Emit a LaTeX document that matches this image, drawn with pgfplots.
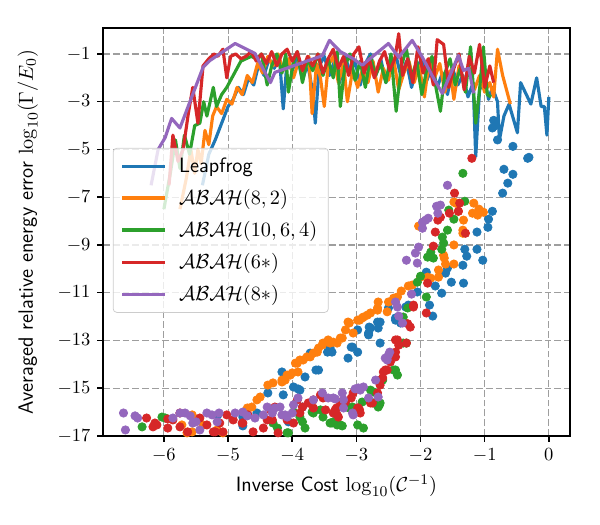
\documentclass[border=0pt]{standalone}
\usepackage{pgfplots}
\pgfplotsset{compat=1.18}
\definecolor{c0}{HTML}{1F77B4}
\definecolor{c1}{HTML}{FF7F0E}
\definecolor{c2}{HTML}{2CA02C}
\definecolor{c3}{HTML}{D62728}
\definecolor{c4}{HTML}{9467BD}
\begin{document}
\begin{tikzpicture}
\useasboundingbox (-55.6pt,-48.1pt) rectangle (268.4pt,235.4pt);
\begin{axis}[
 scale only axis, width=252.2pt, height=220.3pt,
 xmin=-6.95, xmax=0.33, ymin=-17, ymax=0.09,
 xtick={-6,-5,-4,-3,-2,-1,0}, ytick={-17,-15,-13,-11,-9,-7,-5,-3,-1},
 tick align=outside, tick pos=left, major tick length=3.2pt,
 grid=major, major grid style={black!38, dash pattern=on 3.7pt off 1.6pt, line width=0.6pt},
 axis line style={line width=0.8pt}, tick style={black, line width=0.8pt},
 label style={font=\fontsize{11.2}{13}\selectfont},
 xlabel={\sffamily Inverse Cost $\log_{10}(\mathcal{C}^{-1})$},
 ylabel={\sffamily Averaged relative energy error $\log_{10}(\Gamma/E_0)$},
 ylabel style={at={(axis description cs:-0.161,0.5)}, anchor=center},
 legend cell align=left,
 legend style={at={(0.021,0.706)}, anchor=north west, draw=black!20, rounded corners=2pt,
   fill=white, fill opacity=0.8, text opacity=1, row sep=3.6pt, inner xsep=4pt, inner ysep=3pt,
   font=\fontsize{11.2}{13}\selectfont,
   /tikz/every odd column/.append style={column sep=5pt}},
 legend image code/.code={\draw[#1] (0pt,0pt) -- (23pt,0pt);},
 ln/.style={no marks, line width=1.7pt, line join=round},
 scat/.style={only marks, mark=*, mark size=2.25pt, mark options={draw=none}, forget plot},
]
% ---- Leapfrog
\addplot[c0, ln] coordinates {
(-5.40,-6.5)(-5.30,-5.2)(-5.20,-4.6)(-5.10,-3.9)(-5.00,-3.2)(-4.92,-2.9)(-4.84,-2.4)(-4.76,-2.7)(-4.68,-2.0)(-4.60,-2.3)
(-4.52,-1.4)(-4.44,-1.9)(-4.36,-1.2)(-4.28,-1.6)(-4.20,-1.1)(-4.14,-3.3)(-4.08,-1.3)(-4.00,-1.7)(-3.92,-1.1)(-3.84,-2.1)
(-3.76,-1.4)(-3.68,-2.6)(-3.64,-3.9)(-3.58,-1.5)(-3.50,-1.1)(-3.42,-1.9)(-3.34,-1.3)(-3.26,-2.2)(-3.18,-1.0)(-3.10,-1.8)
(-3.02,-1.3)(-2.94,-2.3)(-2.86,-1.4)(-2.78,-1.0)(-2.70,-1.9)(-2.62,-1.2)(-2.54,-2.2)(-2.46,-1.5)(-2.38,-1.1)(-2.30,-2.0)
(-2.22,-1.3)(-2.14,-2.4)(-2.06,-1.6)(-1.98,-1.2)(-1.90,-2.1)(-1.82,-1.5)(-1.74,-2.4)(-1.66,-1.8)(-1.58,-2.7)(-1.50,-1.6)
(-1.42,-2.3)(-1.34,-1.9)(-1.26,-2.8)(-1.18,-2.2)(-1.14,-5.3)(-1.08,-2.5)(-1.00,-2.1)(-0.94,-2.9)(-0.88,-2.4)(-0.80,-3.0)
(-0.77,-4.6)(-0.70,-3.6)(-0.62,-3.1)(-0.49,-4.3)(-0.44,-2.2)(-0.28,-3.1)(-0.19,-2.0)(-0.12,-3.2)(-0.07,-3.2)(-0.03,-4.4)(0.00,-2.8)};
\addlegendentry{\sffamily Leapfrog}
\addplot[c0, scat] coordinates {
(-0.31,-5.33)(-0.70,-5.83)(-0.56,-6.04)(-0.64,-6.41)(-0.72,-6.83)(-0.88,-7.59)(-0.94,-7.92)(-0.95,-8.26)(-1.12,-8.46)(-1.12,-9.18)
(-1.03,-9.64)(-1.31,-9.18)(-1.28,-9.47)(-1.34,-9.85)(-1.33,-10.60)(-1.52,-10.56)(-1.58,-9.97)(-1.61,-10.18)(-1.67,-11.02)(-1.77,-10.72)
(-1.86,-11.52)(-1.81,-11.98)(-2.05,-10.97)(-1.91,-10.14)(-2.19,-11.52)(-2.31,-12.27)(-2.23,-11.60)(-2.63,-12.23)(-2.66,-12.48)(-2.78,-12.48)
(-2.81,-12.77)(-2.63,-13.11)(-2.98,-13.49)(-3.06,-13.28)(-3.13,-13.74)(-2.98,-12.56)(-2.39,-12.06)(-2.50,-11.64)(-3.38,-13.49)(-4.16,-14.32)
(-4.14,-15.28)(-3.98,-14.95)(-3.91,-15.03)(-3.80,-14.53)(-3.63,-14.24)(-3.59,-14.24)(-3.72,-13.53)(-3.45,-13.49)(-3.41,-13.32)(-3.08,-13.28)
(-2.81,-12.69)(-2.80,-12.44)(-2.67,-12.23)(-2.39,-12.15)(-4.55,-16.04)(-4.77,-16.58)(-5.16,-16.12)(-4.38,-15.20)(-3.88,-15.08)(-3.84,-15.79)
(-4.06,-16.41)(-4.77,-16.21)(-3.44,-13.11)(-0.86,-3.78)(-0.83,-4.0)(-0.88,-4.1)(-0.80,-4.6)(-0.56,-4.87)(-0.33,-5.37)};
% ---- ABAH(8,2)
\addplot[c1, ln] coordinates {
(-5.75,-7.5)(-5.65,-6.2)(-5.58,-5.0)(-5.52,-6.0)(-5.47,-5.0)(-5.42,-5.6)(-5.36,-4.2)(-5.30,-4.8)(-5.24,-3.6)(-5.18,-3.2)
(-5.10,-3.5)(-5.02,-2.9)(-4.94,-3.1)(-4.86,-2.4)(-4.78,-2.7)(-4.70,-1.9)(-4.62,-2.2)(-4.54,-1.4)(-4.46,-1.8)(-4.38,-1.1)
(-4.30,-1.5)(-4.22,-1.0)(-4.14,-1.7)(-4.06,-1.2)(-3.98,-2.0)(-3.90,-1.3)(-3.82,-1.8)(-3.74,-1.1)(-3.69,-3.5)(-3.62,-1.4)
(-3.56,-2.0)(-3.50,-3.2)(-3.44,-1.5)(-3.36,-1.1)(-3.28,-2.2)(-3.20,-1.4)(-3.14,-3.0)(-3.06,-1.7)(-2.98,-2.4)(-2.90,-1.6)
(-2.82,-2.2)(-2.74,-1.3)(-2.66,-2.6)(-2.58,-1.6)(-2.50,-2.1)(-2.42,-1.2)(-2.34,-2.5)(-2.26,-1.8)(-2.18,-1.3)(-2.10,-2.2)
(-2.02,-1.5)(-1.94,-2.8)(-1.86,-1.2)(-1.78,-2.0)(-1.70,-1.4)(-1.62,-2.6)(-1.54,-1.7)(-1.48,-2.9)(-1.40,-1.5)(-1.32,-2.2)
(-1.24,-1.6)(-1.16,-2.5)(-1.08,-1.9)(-1.00,-2.6)(-0.92,-2.2)(-0.86,-2.8)(-0.80,-0.8)(-0.72,-1.9)(-0.66,-2.5)(-0.60,-3.1)};
\addlegendentry{$\mathcal{ABAH}(8,2)$}
\addplot[c1, scat] coordinates {
(-3.13,-12.23)(-3.17,-12.56)(-3.25,-12.90)(-3.36,-13.07)(-3.41,-13.11)(-3.53,-13.19)(-3.61,-13.49)(-3.67,-13.53)(-3.77,-13.69)(-3.88,-13.82)
(-3.92,-13.95)(-4.00,-14.36)(-4.08,-14.45)(-4.16,-14.66)(-4.30,-14.78)(-4.38,-14.87)(-4.50,-15.37)(-4.55,-15.49)(-4.63,-15.79)(-4.70,-15.83)
(-5.72,-16.54)(-5.56,-16.12)(-5.52,-16.33)(-5.64,-16.87)(-5.17,-16.75)(-5.39,-16.54)(-5.08,-16.87)(-5.56,-16.83)(-4.16,-14.74)(-4.11,-14.66)
(-4.03,-14.45)(-3.95,-13.95)(-3.91,-14.32)(-3.83,-13.82)(-3.72,-13.69)(-3.59,-13.32)(-3.52,-13.11)(-3.44,-12.98)(-3.30,-13.11)(-3.22,-12.90)
(-3.05,-12.69)(-2.98,-12.15)(-2.91,-12.06)(-2.83,-11.94)(-2.78,-11.85)(-2.67,-11.64)(-2.66,-11.39)(-2.52,-11.80)(-2.30,-10.93)(-2.36,-11.18)
(-2.42,-11.23)(-2.50,-11.39)(-2.67,-11.73)(-2.89,-12.02)(-2.95,-12.15)(-3.11,-12.27)(-2.19,-10.72)(-2.13,-10.68)(-2.00,-10.35)(-1.89,-10.35)
(-1.84,-10.39)(-1.72,-10.35)(-1.72,-10.05)(-1.61,-9.80)(-1.48,-9.80)(-1.48,-9.00)(-1.64,-9.43)(-1.63,-9.55)(-1.34,-8.51)(-1.34,-8.38)
(-1.33,-7.96)(-1.45,-7.25)(-1.41,-7.59)(-1.17,-7.25)(-1.19,-7.67)(-1.11,-7.75)(-1.09,-7.50)(-1.02,-7.63)(-2.03,-8.21)(-1.48,-7.2)};
% ---- ABAH(10,6,4)
\addplot[c2, ln] coordinates {
(-6.00,-7.5)(-5.90,-6.0)(-5.82,-4.6)(-5.75,-5.8)(-5.68,-4.4)(-5.60,-5.2)(-5.52,-4.0)(-5.44,-3.9)(-5.38,-3.0)(-5.33,-3.6)
(-5.23,-2.4)(-5.18,-3.2)(-5.10,-2.7)(-5.02,-2.4)(-4.94,-2.0)(-4.86,-1.6)(-4.80,-1.3)(-4.72,-1.2)(-4.64,-1.1)(-4.56,-1.2)
(-4.48,-1.0)(-4.39,-2.3)(-4.32,-1.5)(-4.24,-1.0)(-4.16,-1.8)(-4.10,-1.0)(-4.06,-2.6)(-3.98,-1.3)(-3.92,-0.9)(-3.84,-2.2)
(-3.76,-1.2)(-3.68,-1.7)(-3.60,-1.0)(-3.52,-1.9)(-3.44,-1.2)(-3.36,-2.0)(-3.30,-0.9)(-3.25,-3.2)(-3.18,-1.5)(-3.10,-1.0)
(-3.02,-2.1)(-2.94,-1.3)(-2.86,-2.4)(-2.78,-1.1)(-2.70,-1.9)(-2.62,-1.4)(-2.54,-2.2)(-2.46,-1.0)(-2.38,-3.4)(-2.30,-1.5)
(-2.22,-0.8)(-2.14,-2.0)(-2.06,-1.3)(-1.98,-2.7)(-1.90,-1.6)(-1.82,-1.1)(-1.76,-2.4)(-1.69,-3.4)(-1.62,-1.8)(-1.54,-1.2)
(-1.46,-2.3)(-1.38,-1.6)(-1.30,-2.6)(-1.22,-0.7)(-1.14,-3.9)(-1.08,-2.5)(-1.02,-0.7)(-0.96,-2.7)(-0.90,-2.8)};
\addlegendentry{$\mathcal{ABAH}(10,6,4)$}
\addplot[c2, scat] coordinates {
(-1.34,-6.0)(-1.31,-7.17)(-1.56,-7.54)(-1.48,-7.92)(-1.58,-8.38)(-1.66,-8.67)(-1.64,-8.92)(-1.67,-9.18)(-1.84,-9.30)(-1.89,-9.51)
(-1.80,-9.55)(-2.00,-10.31)(-2.05,-10.56)(-1.91,-11.18)(-2.20,-11.64)(-2.27,-12.02)(-2.27,-13.11)(-2.22,-13.11)(-2.42,-14.24)(-2.36,-14.45)
(-2.59,-14.66)(-2.73,-15.16)(-2.64,-15.70)(-2.66,-15.79)(-2.91,-15.58)(-3.11,-15.83)(-3.22,-16.58)(-2.98,-16.54)(-2.89,-16.67)(-3.38,-16.46)
(-6.34,-16.62)(-6.03,-16.21)(-5.98,-16.25)(-4.23,-16.67)(-4.08,-16.87)(-4.06,-16.87)(-3.88,-16.21)(-3.67,-16.04)(-3.56,-15.91)(-3.41,-16.46)
(-3.36,-16.41)(-3.25,-16.54)(-3.14,-15.79)(-3.80,-16.67)(-3.30,-16.54)(-3.06,-15.79)(-2.78,-15.08)(-2.73,-15.62)(-2.63,-15.62)(-2.39,-14.24)
(-3.52,-16.21)(-3.69,-16.0)(-3.98,-16.00)(-3.84,-16.41)(-4.30,-16.46)};
% ---- ABAH(6*)
\addplot[c3, ln] coordinates {
(-5.92,-6.5)(-5.86,-4.4)(-5.78,-5.5)(-5.70,-5.0)(-5.62,-3.5)(-5.55,-2.4)(-5.47,-3.9)(-5.39,-1.5)(-5.30,-1.2)(-5.22,-1.0)
(-5.16,-1.1)(-5.08,-0.8)(-5.02,-2.0)(-4.96,-1.1)(-4.88,-1.0)(-4.80,-1.2)(-4.72,-1.1)(-4.64,-0.9)(-4.56,-1.3)(-4.48,-1.0)
(-4.40,-1.4)(-4.32,-0.9)(-4.24,-1.5)(-4.16,-1.0)(-4.08,-0.8)(-4.00,-1.3)(-3.92,-0.9)(-3.84,-1.7)(-3.76,-1.1)(-3.68,-1.5)
(-3.60,-1.0)(-3.52,-1.8)(-3.44,-1.2)(-3.36,-0.8)(-3.28,-1.6)(-3.20,-1.1)(-3.12,-1.9)(-3.04,-1.0)(-2.96,-0.7)(-2.88,-1.8)
(-2.80,-1.2)(-2.72,-2.0)(-2.64,-1.3)(-2.56,-0.9)(-2.48,-1.7)(-2.40,-1.2)(-2.34,-0.15)(-2.28,-1.9)(-2.20,-1.2)(-2.12,-2.2)
(-2.04,-0.7)(-1.96,-1.8)(-1.88,-1.2)(-1.80,-2.3)(-1.74,-0.4)(-1.64,-0.6)(-1.56,-2.4)(-1.48,-1.6)(-1.40,-1.0)(-1.32,-2.5)
(-1.24,-1.1)(-1.16,-1.8)(-1.08,-0.6)(-1.00,-2.4)(-0.92,-1.5)(-0.86,-2.2)};
\addlegendentry{$\mathcal{ABAH}(6*)$}
\addplot[c3, scat] coordinates {
(-1.20,-5.37)(-1.47,-6.83)(-1.39,-7.25)(-1.41,-7.59)(-1.55,-7.67)(-1.69,-7.84)(-1.73,-7.96)(-1.77,-8.46)(-1.80,-9.05)(-1.30,-8.51)
(-1.89,-10.60)(-1.91,-11.85)(-2.11,-11.52)(-2.16,-12.44)(-2.20,-12.30)(-2.39,-12.98)(-2.34,-13.20)(-2.39,-13.49)(-2.47,-13.90)(-2.55,-14.24)
(-2.59,-14.57)(-2.63,-14.66)(-2.75,-15.62)(-2.98,-15.83)(-2.95,-15.91)(-3.05,-15.20)(-3.28,-16.21)(-3.31,-15.83)(-6.27,-16.25)(-6.17,-16.62)
(-6.11,-16.54)(-5.94,-16.67)(-5.86,-16.33)(-5.75,-16.62)(-5.63,-16.83)(-5.44,-16.25)(-5.33,-16.54)(-5.20,-16.83)(-5.08,-16.83)(-4.92,-16.33)
(-4.77,-16.46)(-4.69,-16.12)(-4.61,-16.83)(-4.39,-16.33)(-4.34,-15.91)(-4.27,-15.79)(-4.22,-16.87)(-4.08,-16.33)(-3.98,-16.46)(-3.92,-15.49)
(-3.88,-16.04)(-3.67,-15.49)(-3.56,-15.28)(-3.48,-15.91)(-3.36,-16.04)(-3.25,-15.58)(-3.17,-15.58)(-3.84,-15.79)(-3.75,-15.62)(-3.67,-15.83)
(-3.52,-15.41)(-3.33,-15.91)(-3.30,-16.12)(-3.08,-15.41)(-2.97,-15.83)(-2.94,-16.04)(-2.78,-15.62)(-2.67,-15.20)(-2.63,-14.87)(-2.58,-14.32)
(-2.52,-14.24)(-2.36,-12.98)(-2.39,-13.69)(-2.22,-13.11)(-2.11,-11.60)(-6.14,-16.46)(-5.94,-16.29)(-5.75,-16.04)(-5.23,-16.83)(-5.13,-16.46)
(-5.02,-16.12)(-4.78,-16.46)(-4.45,-16.67)(-4.31,-16.33)};
% ---- ABAH(8*)
\addplot[c4, ln] coordinates {
(-6.20,-6.5)(-6.09,-5.0)(-5.98,-4.5)(-5.88,-3.7)(-5.75,-4.1)(-5.39,-1.56)(-5.28,-1.27)(-4.89,-0.56)(-4.58,-0.98)(-4.34,-2.2)
(-4.27,-1.77)(-3.53,-1.07)(-3.42,-0.43)(-3.25,-0.9)(-3.06,-1.18)(-2.91,-1.47)(-2.50,-0.56)(-2.34,-1.14)(-2.13,-0.43)(-1.97,-1.14)
(-1.80,-2.0)(-1.66,-2.65)(-1.41,-1.06)(-1.33,-1.69)(-1.25,-1.6)(-1.17,-2.65)};
\addlegendentry{$\mathcal{ABAH}(8*)$}
\addplot[c4, scat] coordinates {
(-1.58,-6.50)(-1.69,-7.33)(-1.75,-7.38)(-1.73,-7.67)(-1.88,-7.88)(-1.92,-7.96)(-1.97,-8.05)(-1.97,-8.30)(-2.03,-9.09)(-2.08,-9.34)
(-2.22,-9.64)(-2.05,-9.76)(-2.14,-11.06)(-2.39,-11.39)(-2.36,-11.60)(-2.34,-11.98)(-2.28,-12.27)(-2.48,-13.49)(-2.52,-13.82)(-2.55,-13.74)
(-2.70,-14.66)(-2.66,-15.37)(-2.89,-14.95)(-2.94,-15.08)(-3.02,-15.03)(-3.05,-16.12)(-3.20,-15.49)(-3.22,-15.20)(-3.33,-15.45)(-4.16,-16.12)
(-4.08,-16.21)(-3.91,-15.41)(-3.67,-15.49)(-3.53,-15.20)(-3.44,-15.41)(-3.36,-15.41)(-3.20,-15.83)(-3.06,-16.04)(-2.97,-14.99)(-2.81,-15.41)
(-2.50,-13.61)(-6.63,-16.04)(-6.60,-16.75)(-6.45,-16.16)(-6.41,-16.25)(-5.86,-16.25)(-5.75,-16.04)(-5.67,-16.04)(-5.59,-16.16)(-5.55,-16.46)
(-5.50,-16.41)(-5.44,-16.75)(-5.33,-16.04)(-5.25,-16.12)(-5.17,-16.41)(-5.14,-16.04)(-4.89,-16.04)(-4.77,-16.0)(-4.70,-16.16)(-4.58,-16.25)
(-4.45,-16.12)(-4.39,-15.79)(-4.31,-16.04)(-4.27,-15.83)(-4.19,-15.79)(-4.11,-16.12)(-4.00,-16.04)(-3.98,-15.70)};
\end{axis}
\end{tikzpicture}
\end{document}
